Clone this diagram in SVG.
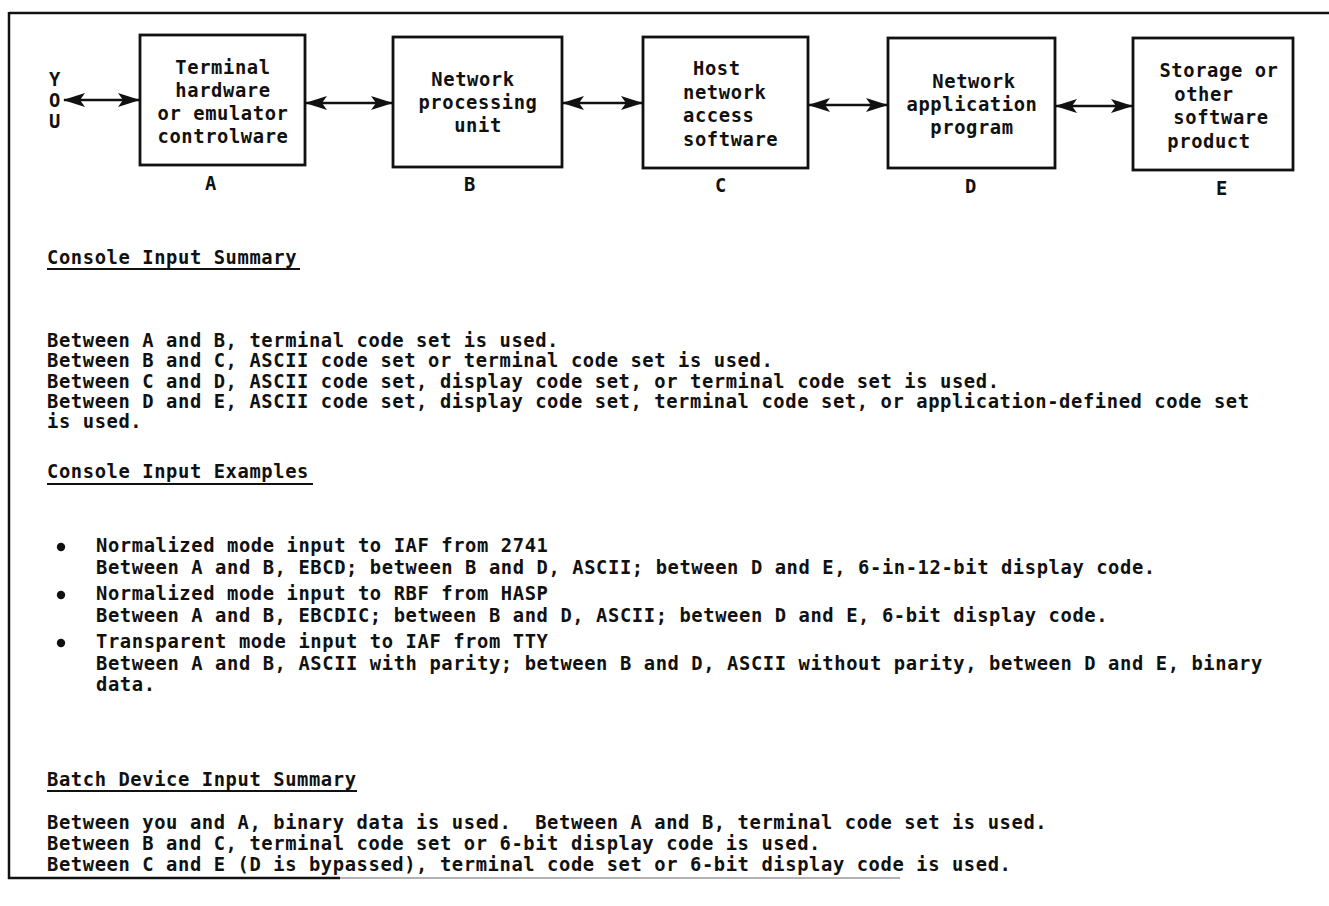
<svg xmlns="http://www.w3.org/2000/svg" width="1329" height="906" viewBox="0 0 1329 906">
<style>
.t{font-family:"DejaVu Sans Mono","Liberation Mono",monospace;font-weight:bold;font-size:18.8px;letter-spacing:0.6px;fill:#111}
.c{text-anchor:middle}
.pre{white-space:pre}
.box{fill:#fff;stroke:#111;stroke-width:2.8}
.frame{stroke:#111;stroke-width:2.5;fill:none}
.conn{stroke:#111;stroke-width:2.5;fill:none;marker-start:url(#ah);marker-end:url(#ah)}
.ul{stroke:#111;stroke-width:2}
</style>
<defs>
<marker id="ah" markerUnits="userSpaceOnUse" markerWidth="22" markerHeight="16" refX="21" refY="7" orient="auto-start-reverse">
<path d="M0,0 L22,7 L0,14 L5,7 Z" fill="#111"/>
</marker>
</defs>
<rect width="1329" height="906" fill="#fff"/>
<g id="frame">
<line class="frame" x1="9" y1="13" x2="1329" y2="13"/>
<line class="frame" x1="9" y1="12" x2="9" y2="879"/>
<line class="frame" x1="8" y1="878" x2="340" y2="878"/>
<line x1="340" y1="878" x2="900" y2="878" stroke="#999" stroke-width="1.5"/>
</g>
<g id="you">
<text class="t c" x="55" y="86">Y</text>
<text class="t c" x="55" y="107">O</text>
<text class="t c" x="55" y="128">U</text>
</g>
<g id="connectors">
<line class="conn" x1="64" y1="100" x2="139" y2="100"/>
<line class="conn" x1="306" y1="103" x2="392" y2="103"/>
<line class="conn" x1="563" y1="103" x2="642" y2="103"/>
<line class="conn" x1="809" y1="105" x2="887" y2="105"/>
<line class="conn" x1="1056" y1="106" x2="1132" y2="106"/>
</g>
<g id="nodeA">
<rect class="box" x="140" y="35" width="165" height="130"/>
<text class="t c" x="223" y="74">Terminal</text>
<text class="t c" x="223" y="97">hardware</text>
<text class="t c" x="223" y="120">or emulator</text>
<text class="t c" x="223" y="143">controlware</text>
<text class="t c" x="211" y="190">A</text>
</g>
<g id="nodeB">
<rect class="box" x="393" y="37" width="169" height="130"/>
<text class="t c" x="473" y="86">Network</text>
<text class="t c" x="478" y="109">processing</text>
<text class="t c" x="478" y="132">unit</text>
<text class="t c" x="470" y="191">B</text>
</g>
<g id="nodeC">
<rect class="box" x="643" y="37" width="165" height="131"/>
<text class="t" x="693" y="75">Host</text>
<text class="t" x="683" y="99">network</text>
<text class="t" x="683" y="122">access</text>
<text class="t" x="683" y="146">software</text>
<text class="t c" x="721" y="192">C</text>
</g>
<g id="nodeD">
<rect class="box" x="888" y="38" width="167" height="130"/>
<text class="t c" x="974" y="88">Network</text>
<text class="t c" x="972" y="111">application</text>
<text class="t c" x="972" y="134">program</text>
<text class="t c" x="971" y="193">D</text>
</g>
<g id="nodeE">
<rect class="box" x="1133" y="38" width="160" height="132"/>
<text class="t c" x="1219" y="77">Storage or</text>
<text class="t c" x="1204" y="101">other</text>
<text class="t c" x="1221" y="124">software</text>
<text class="t c" x="1209" y="148">product</text>
<text class="t c" x="1222" y="195">E</text>
</g>
<g id="summary">
<text class="t" x="47" y="264">Console Input Summary</text>
<line class="ul" x1="47" y1="269" x2="300" y2="269"/>
<text class="t" x="47" y="347">Between A and B, terminal code set is used.</text>
<text class="t" x="47" y="367">Between B and C, ASCII code set or terminal code set is used.</text>
<text class="t" x="47" y="388">Between C and D, ASCII code set, display code set, or terminal code set is used.</text>
<text class="t" x="47" y="408">Between D and E, ASCII code set, display code set, terminal code set, or application-defined code set</text>
<text class="t" x="47" y="428">is used.</text>
</g>
<g id="examples">
<text class="t" x="47" y="478">Console Input Examples</text>
<line class="ul" x1="47" y1="484" x2="313" y2="484"/>
<circle cx="61" cy="547" r="4.2" fill="#111"/>
<text class="t" x="96" y="552">Normalized mode input to IAF from 2741</text>
<text class="t" x="96" y="574">Between A and B, EBCD; between B and D, ASCII; between D and E, 6-in-12-bit display code.</text>
<circle cx="61" cy="595" r="4.2" fill="#111"/>
<text class="t" x="96" y="600">Normalized mode input to RBF from HASP</text>
<text class="t" x="96" y="622">Between A and B, EBCDIC; between B and D, ASCII; between D and E, 6-bit display code.</text>
<circle cx="61" cy="643" r="4.2" fill="#111"/>
<text class="t" x="96" y="648">Transparent mode input to IAF from TTY</text>
<text class="t" x="96" y="670">Between A and B, ASCII with parity; between B and D, ASCII without parity, between D and E, binary</text>
<text class="t" x="96" y="691">data.</text>
</g>
<g id="batch">
<text class="t" x="47" y="786">Batch Device Input Summary</text>
<line class="ul" x1="47" y1="791" x2="357" y2="791"/>
<text class="t pre" x="47" y="829">Between you and A, binary data is used.  Between A and B, terminal code set is used.</text>
<text class="t" x="47" y="850">Between B and C, terminal code set or 6-bit display code is used.</text>
<text class="t" x="47" y="871">Between C and E (D is bypassed), terminal code set or 6-bit display code is used.</text>
</g>
</svg>
